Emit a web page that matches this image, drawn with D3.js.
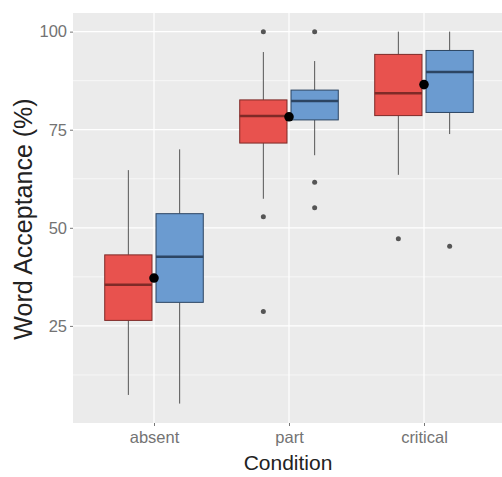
<!DOCTYPE html>
<html>
<head>
<meta charset="utf-8">
<script src="https://cdn.jsdelivr.net/npm/d3@7"></script>
<style>
  body { margin: 0; background: #fff; }
  svg text { font-family: "Liberation Sans", Arial, sans-serif; }
</style>
</head>
<body>
<svg class="boxplot" width="502" height="477"></svg>
<script>
const conditions = ["absent", "part", "critical"]
const groups = ["a", "b"]
const groupColors = { a: "#e8524e", b: "#6b9bd0" }
const groupLines = { a: "#7e2a27", b: "#2c4563" }
const yTicks = [25, 50, 75, 100]
const yMinor = [12.5, 37.5, 62.5, 87.5]

// box stats: [lowWhisker, q1, median, q3, highWhisker]
const statsA = [
  [7.4, 26.4, 35.5, 43.1, 64.7],
  [57.4, 71.6, 78.5, 82.6, 94.8],
  [63.5, 78.6, 84.3, 94.2, 100]
]
const statsB = [
  [5.2, 31.0, 42.6, 53.6, 70.0],
  [68.5, 77.5, 82.3, 85.1, 92.5],
  [73.9, 79.4, 89.7, 95.2, 100]
]
const outliersA = [[], [100, 52.8, 28.7], [47.2]]
const outliersB = [[], [100, 61.6, 55.1], [45.3]]
const means = [37.2, 78.3, 86.5]

const margin = { top: 13, right: 0, bottom: 54, left: 73 }
const width = 502 - margin.left - margin.right
const height = 477 - margin.top - margin.bottom

const svg = d3.select("svg.boxplot")
const g = svg.append("g")
  .attr("transform", `translate(${margin.left},${margin.top})`)

// panel is cut at the right edge of the picture, so the scale runs a bit past it
const x = d3.scalePoint().domain(conditions).range([0, 432]).padding(0.6)
const step = x.step()
const y = d3.scaleLinear().domain([0.25, 104.75]).range([height, 0])

g.append("rect")
  .attr("width", width).attr("height", height)
  .attr("fill", "#ebebeb")

// grid
g.selectAll("line.minor").data(yMinor).join("line")
  .attr("class", "minor")
  .attr("x1", 0).attr("x2", width)
  .attr("y1", d => y(d)).attr("y2", d => y(d))
  .attr("stroke", "#fff").attr("stroke-width", 0.6)
g.selectAll("line.major").data(yTicks).join("line")
  .attr("class", "major")
  .attr("x1", 0).attr("x2", width)
  .attr("y1", d => y(d)).attr("y2", d => y(d))
  .attr("stroke", "#fff").attr("stroke-width", 1.2)
g.selectAll("line.vgrid").data(conditions).join("line")
  .attr("class", "vgrid")
  .attr("x1", d => x(d)).attr("x2", d => x(d))
  .attr("y1", 0).attr("y2", height)
  .attr("stroke", "#fff").attr("stroke-width", 1.2)

const boxW = step * 0.35
const gap = step * 0.015

function drawBoxes(stats, outliers, key, side) {
  const cx = (i) => x(conditions[i]) + side * (gap + boxW / 2)
  const bg = g.append("g")
  stats.forEach((s, i) => {
    const c = cx(i)
    bg.append("line")
      .attr("x1", c).attr("x2", c)
      .attr("y1", y(s[0])).attr("y2", y(s[1]))
      .attr("stroke", "#555").attr("stroke-width", 1)
    bg.append("line")
      .attr("x1", c).attr("x2", c)
      .attr("y1", y(s[3])).attr("y2", y(s[4]))
      .attr("stroke", "#555").attr("stroke-width", 1)
    bg.append("rect")
      .attr("x", c - boxW / 2).attr("width", boxW)
      .attr("y", y(s[3])).attr("height", y(s[1]) - y(s[3]))
      .attr("fill", groupColors[key])
      .attr("stroke", groupLines[key]).attr("stroke-width", 1)
    bg.append("line")
      .attr("x1", c - boxW / 2).attr("x2", c + boxW / 2)
      .attr("y1", y(s[2])).attr("y2", y(s[2]))
      .attr("stroke", groupLines[key]).attr("stroke-width", 2.5)
    bg.selectAll(null).data(outliers[i]).join("circle")
      .attr("cx", c).attr("cy", d => y(d)).attr("r", 2.5)
      .attr("fill", "#555")
  })
}

drawBoxes(statsA, outliersA, "a", -1)
drawBoxes(statsB, outliersB, "b", 1)

g.selectAll("circle.mean").data(means).join("circle")
  .attr("class", "mean")
  .attr("cx", (d, i) => x(conditions[i]))
  .attr("cy", d => y(d))
  .attr("r", 4.8)
  .attr("fill", "#000")

// axes
const yAxis = g.append("g").call(d3.axisLeft(y).tickValues(yTicks).tickSize(3).tickPadding(3))
yAxis.select(".domain").remove()
yAxis.selectAll("line").attr("stroke", "#777")
yAxis.selectAll("text").attr("fill", "#737373").attr("font-size", 16.5)

const xAxis = g.append("g")
  .attr("transform", `translate(0,${height})`)
  .call(d3.axisBottom(x).tickSize(3).tickPadding(5))
xAxis.select(".domain").remove()
xAxis.selectAll("line").attr("stroke", "#777")
xAxis.selectAll("text").attr("fill", "#737373").attr("font-size", 16.5)

svg.append("text")
  .attr("x", 288)
  .attr("y", 470)
  .attr("text-anchor", "middle")
  .attr("font-size", 21)
  .attr("fill", "#222")
  .text("Condition")

svg.append("text")
  .attr("transform", `translate(32,219) rotate(-90)`)
  .attr("text-anchor", "middle")
  .attr("font-size", 25)
  .attr("fill", "#222")
  .text("Word Acceptance (%)")
</script>
</body>
</html>
